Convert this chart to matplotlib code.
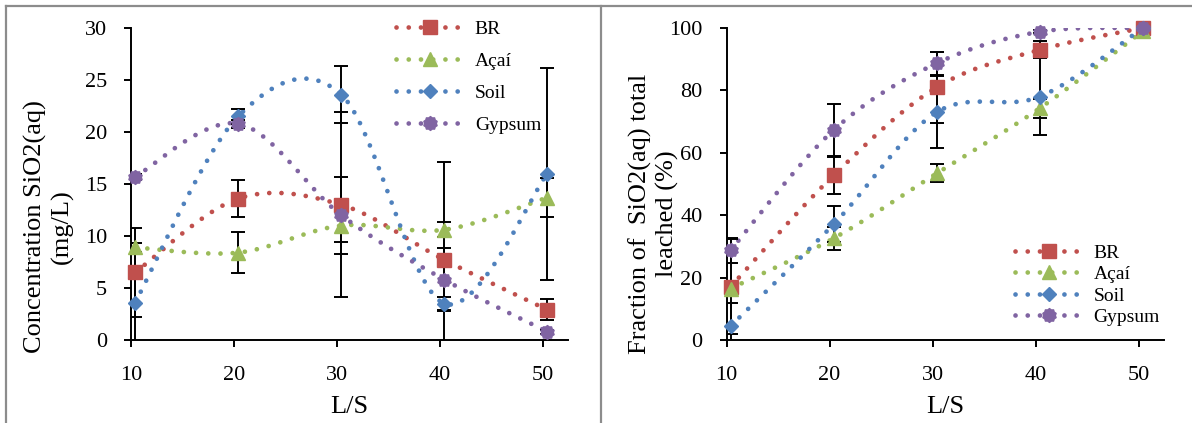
import numpy as np
import matplotlib.pyplot as plt
from matplotlib.path import Path
from matplotlib.lines import Line2D

plt.rcParams['font.family'] = ['Liberation Serif', 'DejaVu Serif']

# liquid/solid ratio of each leaching step
ls_ratio = [10.4, 20.4, 30.4, 40.4, 50.4]
series = ['BR', 'Açaí', 'Soil', 'Gypsum']
colors = ['#C0504D', '#9BBB59', '#4F81BD', '#8064A2']

# SiO2(aq) concentration (mg/L) and its error
conc_br = [6.5, 13.6, 13.0, 7.7, 2.9]
conc_acai = [8.9, 8.4, 11.0, 10.6, 13.7]
conc_soil = [3.6, 21.5, 23.6, 3.5, 16.0]
conc_gypsum = [15.7, 20.8, 12.0, 5.8, 0.8]
err_br = [4.3, 1.8, 8.9, 9.4, 1.0]
err_acai = [0.4, 2.0, 1.6, 0.7, 1.9]
err_soil = [5.7, 0.7, 2.7, 0.6, 10.2]
err_gypsum = [0.3, 0.4, 3.7, 3.0, 0.2]

# fraction of total SiO2(aq) leached (%) and its error
frac_br = [17.1, 52.8, 81.0, 93.0, 100.0]
frac_acai = [16.5, 32.6, 53.4, 74.3, 99.0]
frac_soil = [4.5, 37.1, 73.0, 78.0, 100.0]
frac_gypsum = [28.8, 67.3, 88.7, 98.8, 100.0]
ferr_br = [15.2, 6.0, 11.3, 2.7, 0.0]
ferr_acai = [1.0, 3.6, 2.9, 3.0, 0.0]
ferr_soil = [7.3, 5.8, 11.6, 12.3, 0.0]
ferr_gypsum = [4.0, 8.3, 3.7, 0.5, 0.0]

# spiky round marker for gypsum
k = 20
ang = np.linspace(0, 2 * np.pi, k, endpoint=False) + np.pi / 2
rad = np.where(np.arange(k) % 2 == 0, 1.0, 0.84)
verts = np.column_stack([rad * np.cos(ang), rad * np.sin(ang)])
verts = np.vstack([verts, verts[:1]])
gear = Path(verts, [Path.MOVETO] + [Path.LINETO] * (k - 1) + [Path.CLOSEPOLY])

markers = ['s', '^', 'D', gear]
msizes = [10.3, 9.5, 7.0, 10.0]


def smooth(x, y, n=40):
    # bezier curve through the points, control points from the neighbours
    px = np.r_[x[0], x, x[-1]].astype(float)
    py = np.r_[y[0], y, y[-1]].astype(float)
    t = np.linspace(0, 1, n)[:, None]
    pts = []
    for i in range(1, len(px) - 2):
        p0, p1, p2, p3 = [np.array([px[j], py[j]]) for j in (i - 1, i, i + 1, i + 2)]
        c1 = p1 + (p2 - p0) / 6
        c2 = p2 - (p3 - p1) / 6
        b = (1 - t) ** 3 * p1 + 3 * (1 - t) ** 2 * t * c1 + 3 * (1 - t) * t ** 2 * c2 + t ** 3 * p2
        pts.append(b if i == 1 else b[1:])
    pts = np.vstack(pts)
    return pts[:, 0], pts[:, 1]


dot = dict(lw=3.4, linestyle=(0, (0.01, 2.58)), dash_capstyle='round')

fig = plt.figure(figsize=(11.92, 4.23), dpi=100)
ax1 = fig.add_axes([131 / 1192, 83 / 423, 437 / 1192, 312 / 423])
ax2 = fig.add_axes([726.5 / 1192, 83 / 423, 437 / 1192, 312 / 423])


def draw(ax, values, errors):
    for i in range(4):
        sx, sy = smooth(ls_ratio, values[i])
        ax.plot(sx, sy, color=colors[i], zorder=2, **dot)
    for i in range(4):
        ax.errorbar(ls_ratio, values[i], yerr=errors[i], fmt='none', ecolor='black',
                    elinewidth=1.4, capsize=4.7, capthick=1.4, zorder=3)
    for i in range(4):
        ax.plot(ls_ratio, values[i], linestyle='none', marker=markers[i], ms=msizes[i],
                color=colors[i], mec=colors[i], zorder=4, clip_on=False)


draw(ax1, [conc_br, conc_acai, conc_soil, conc_gypsum],
     [err_br, err_acai, err_soil, err_gypsum])
draw(ax2, [frac_br, frac_acai, frac_soil, frac_gypsum],
     [ferr_br, ferr_acai, ferr_soil, ferr_gypsum])

ax1.set_ylim(0, 30)
ax1.set_yticks(range(0, 31, 5))
ax2.set_ylim(0, 100)
ax2.set_yticks(range(0, 101, 20))
for ax in (ax1, ax2):
    ax.set_xlim(10, 52.4)
    ax.set_xticks([10, 20, 30, 40, 50])
    ax.spines['right'].set_visible(False)
    ax.spines['top'].set_visible(False)
    ax.spines['left'].set_linewidth(1.4)
    ax.spines['bottom'].set_linewidth(1.4)
    ax.tick_params(direction='out', length=4.8, width=1.4, labelsize=16)
    ax.tick_params(axis='x', pad=14)
    ax.tick_params(axis='y', pad=12.5)
    ax.set_xlabel('L/S', fontsize=19, labelpad=8)

fig.text(48.7 / 1192, 1 - 227 / 423, 'Concentration SiO2(aq)\n(mg/L)', rotation=90,
         ha='center', va='center', ma='center', fontsize=19, linespacing=1.2)
fig.text(654 / 1192, 1 - 214 / 423, 'Fraction of  SiO2(aq) total\nleached (%)', rotation=90,
         ha='center', va='center', ma='center', fontsize=19, linespacing=1.2)

handles = [Line2D([], [], color=colors[i], marker=markers[i], ms=msizes[i], **dot)
           for i in range(4)]
fig.legend(handles, series, loc='upper left', bbox_to_anchor=(396 / 1192, 1 - 20 / 423),
           frameon=False, fontsize=14, numpoints=1, handlelength=3.5,
           handletextpad=0.55, labelspacing=0.75, borderpad=0, borderaxespad=0)
fig.legend(handles, series, loc='upper left', bbox_to_anchor=(1015 / 1192, 1 - 244 / 423),
           frameon=False, fontsize=14, numpoints=1, handlelength=3.5,
           handletextpad=0.55, labelspacing=0.2, borderpad=0, borderaxespad=0)

# chart area borders
frame = dict(color='#8c8c8c', lw=1.6, transform=fig.transFigure)
fig.add_artist(Line2D([6 / 1192, 1], [1 - 6 / 423, 1 - 6 / 423], **frame))
fig.add_artist(Line2D([6 / 1192, 6 / 1192], [0, 1 - 6 / 423], **frame))
fig.add_artist(Line2D([600.5 / 1192, 600.5 / 1192], [0, 1 - 6 / 423], **frame))

fig.savefig('out.png', dpi=100)
